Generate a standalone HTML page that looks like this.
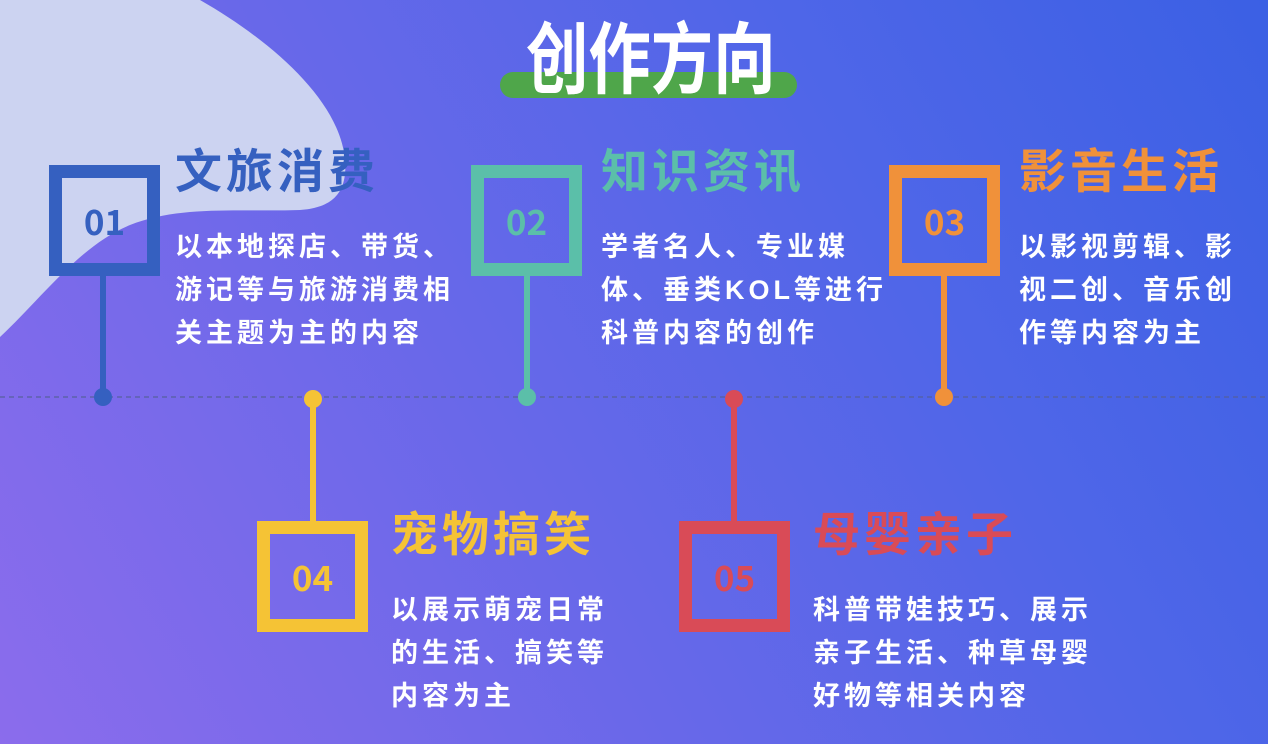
<!DOCTYPE html>
<html><head><meta charset="utf-8"><style>
*{margin:0;padding:0;box-sizing:border-box}
body{width:1268px;height:744px;overflow:hidden;position:relative;font-family:"Liberation Sans","Noto Sans CJK SC",sans-serif;font-weight:bold;
background:linear-gradient(60deg,#8b6cec 0%,#6868e9 40%,#4f66e8 70%,#3b60e4 100%)}
.box{position:absolute;width:111px;height:111px;border:13px solid;display:flex;align-items:center;justify-content:center;font-size:35px;font-weight:bold;font-family:"Noto Sans CJK SC","Liberation Sans",sans-serif}
.stem{position:absolute;width:6px}
.dot{position:absolute;width:18px;height:18px;border-radius:50%}
.t{position:absolute;font-size:47px;letter-spacing:4px;line-height:50px;white-space:nowrap}
.d{position:absolute;color:#fff;font-size:27px;letter-spacing:4px;line-height:43px;white-space:nowrap}
</style></head><body>
<svg width="1268" height="744" style="position:absolute;left:0;top:0">
<path d="M0,0 L200,0 C270,40 340,100 345,160 C348,195 330,208 300,210 C240,212 180,205 130,225 C80,245 40,300 0,337 Z" fill="#ccd3f1"/>
<line x1="0" y1="397" x2="1268" y2="397" stroke="#55609a" stroke-width="1.5" stroke-dasharray="5,4" opacity="0.8"/>
<rect x="500" y="72" width="297" height="26" rx="13" fill="#4fa64a"/>
</svg>
<div style="position:absolute;left:526px;top:8px;font-size:78px;color:#fff;line-height:92px;white-space:nowrap;transform:scaleX(0.8);transform-origin:0 0;font-family:'Noto Sans CJK SC',sans-serif;font-weight:bold">创作方向</div>

<div class="box" style="left:49px;top:165px;border-color:#3560c0;color:#3560c0">01</div>
<div class="stem" style="left:100px;top:276px;height:121px;background:#3560c0"></div>
<div class="dot" style="left:94px;top:388px;background:#3560c0"></div>
<div class="t" style="left:175px;top:147px;color:#3560c0">文旅消费</div>
<div class="d" style="left:175px;top:226px">以本地探店、带货、<br>游记等与旅游消费相<br>关主题为主的内容</div>

<div class="box" style="left:471px;top:165px;border-color:#5bbfa9;color:#5bbfa9">02</div>
<div class="stem" style="left:524px;top:276px;height:121px;background:#5bbfa9"></div>
<div class="dot" style="left:518px;top:388px;background:#5bbfa9"></div>
<div class="t" style="left:601px;top:147px;color:#5bbfa9">知识资讯</div>
<div class="d" style="left:601px;top:226px">学者名人、专业媒<br>体、垂类KOL等进行<br>科普内容的创作</div>

<div class="box" style="left:889px;top:165px;border-color:#f0913a;color:#f0913a">03</div>
<div class="stem" style="left:941px;top:276px;height:121px;background:#f0913a"></div>
<div class="dot" style="left:935px;top:388px;background:#f0913a"></div>
<div class="t" style="left:1019px;top:147px;color:#f0913a">影音生活</div>
<div class="d" style="left:1019px;top:226px">以影视剪辑、影<br>视二创、音乐创<br>作等内容为主</div>

<div class="box" style="left:257px;top:521px;border-color:#f5c335;color:#f5c335">04</div>
<div class="stem" style="left:310px;top:397px;height:124px;background:#f5c335"></div>
<div class="dot" style="left:304px;top:390px;background:#f5c335"></div>
<div class="t" style="left:391px;top:510px;color:#f5c335">宠物搞笑</div>
<div class="d" style="left:391px;top:589px">以展示萌宠日常<br>的生活、搞笑等<br>内容为主</div>

<div class="box" style="left:679px;top:521px;border-color:#d94b57;color:#d94b57">05</div>
<div class="stem" style="left:731px;top:397px;height:124px;background:#d94b57"></div>
<div class="dot" style="left:725px;top:390px;background:#d94b57"></div>
<div class="t" style="left:813px;top:510px;color:#d94b57">母婴亲子</div>
<div class="d" style="left:813px;top:589px">科普带娃技巧、展示<br>亲子生活、种草母婴<br>好物等相关内容</div>
</body></html>
